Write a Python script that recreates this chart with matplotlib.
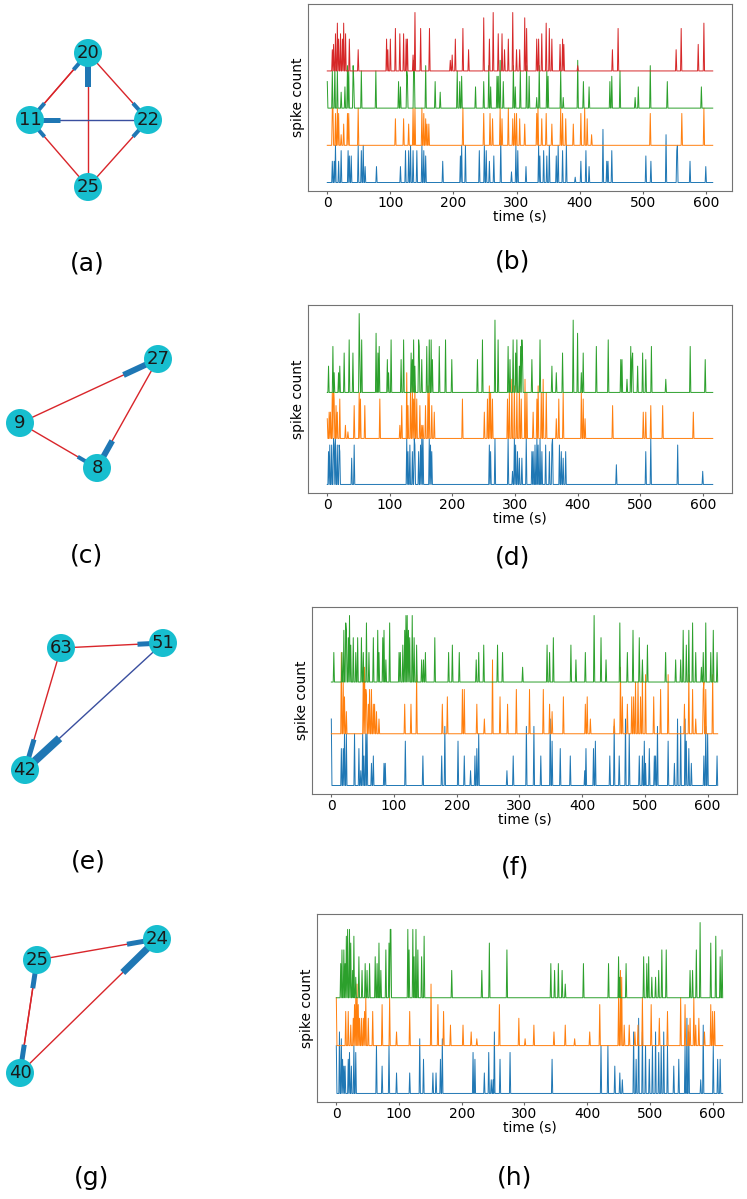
import numpy as np
import matplotlib
matplotlib.use("Agg")
import matplotlib.pyplot as plt
from matplotlib.patches import Circle

W, H = 747, 1199

# ── spike trains: (time bin [s], spike count) ───────────────────────────────
B_BLUE = [(8, 4), (11, 4), (13, 7), (18, 4), (22, 6), (33, 6), (35, 5), (38, 5), (49, 7), (54, 6),
          (57, 7), (60, 3), (78, 3), (116, 3), (124, 6), (129, 6), (132, 7), (136, 6), (142, 6),
          (150, 7), (153, 6), (156, 5), (183, 4), (211, 5), (213, 7), (219, 7), (241, 6), (249, 7),
          (252, 6), (257, 4), (264, 5), (275, 8), (292, 2), (299, 7), (302, 6), (315, 3), (335, 7),
          (337, 5), (343, 6), (348, 5), (352, 7), (363, 5), (366, 7), (373, 6), (379, 7), (393, 1),
          (402, 4), (410, 6), (415, 3), (437, 10), (443, 4), (445, 4), (451, 6), (505, 5), (513, 4),
          (537, 9), (554, 6), (555, 7), (575, 4), (600, 3)]
B_ORANGE = [(8, 7), (9, 7), (13, 6), (16, 7), (18, 6), (22, 2), (26, 4), (32, 6), (34, 6), (49, 7),
            (108, 5), (121, 5), (129, 4), (136, 7), (139, 7), (150, 7), (153, 6), (156, 5), (158, 4),
            (161, 4), (215, 7), (248, 6), (258, 6), (262, 5), (274, 7), (277, 5), (287, 7), (294, 5),
            (297, 6), (300, 6), (305, 5), (313, 4), (332, 6), (334, 7), (340, 5), (347, 6), (356, 4),
            (370, 7), (373, 6), (378, 5), (390, 4), (402, 6), (408, 7), (412, 5), (419, 2), (512, 6),
            (562, 6), (597, 7)]
B_GREEN = [(0, 5), (8, 7), (12, 8), (16, 7), (22, 3), (28, 4), (32, 8), (34, 7), (41, 8), (42, 5),
           (54, 7), (77, 7), (113, 5), (116, 4), (126, 7), (127, 6), (137, 9), (138, 8), (156, 8),
           (171, 5), (179, 3), (206, 7), (210, 5), (213, 6), (235, 4), (248, 5), (256, 8), (259, 4),
           (269, 6), (271, 6), (274, 9), (279, 5), (295, 8), (298, 4), (306, 7), (316, 8), (320, 6),
           (332, 2), (336, 8), (348, 7), (350, 6), (370, 7), (374, 2), (397, 9), (406, 5), (415, 4),
           (448, 5), (451, 6), (464, 7), (488, 2), (493, 4), (512, 8), (539, 5), (593, 4)]
B_RED = [(8, 4), (10, 5), (13, 7), (16, 9), (18, 6), (21, 7), (24, 6), (26, 9), (29, 7), (35, 6),
         (49, 4), (94, 6), (96, 4), (100, 6), (108, 8), (115, 7), (121, 7), (125, 6), (127, 6),
         (136, 3), (139, 11), (148, 8), (162, 8), (195, 2), (198, 3), (203, 6), (215, 8), (224, 4),
         (248, 10), (257, 6), (263, 11), (271, 7), (277, 7), (281, 4), (287, 6), (294, 11), (300, 4),
         (305, 4), (313, 10), (316, 8), (332, 6), (335, 6), (340, 7), (347, 9), (352, 8), (356, 6),
         (369, 5), (373, 6), (375, 5), (397, 1), (452, 4), (461, 8), (553, 4), (561, 8), (588, 5),
         (597, 9)]

D_BLUE = [(2, 5), (4, 6), (7, 6), (10, 7), (11, 6), (13, 7), (16, 6), (19, 6), (20, 5), (39, 4),
          (43, 6), (127, 7), (129, 5), (132, 6), (136, 5), (139, 7), (140, 6), (146, 5), (149, 6),
          (151, 7), (153, 7), (163, 7), (165, 6), (167, 5), (259, 6), (261, 5), (268, 7), (289, 7),
          (296, 2), (299, 7), (301, 6), (304, 5), (307, 4), (311, 4), (318, 7), (327, 5), (329, 5),
          (332, 6), (335, 7), (337, 6), (340, 7), (343, 5), (349, 6), (355, 5), (359, 6), (360, 7),
          (371, 6), (374, 5), (377, 4), (381, 5), (462, 3), (509, 5), (517, 7), (560, 6), (600, 2)]
D_ORANGE = [(0, 3), (3, 4), (5, 4), (8, 7), (10, 8), (11, 6), (14, 5), (16, 4), (20, 6), (29, 2),
            (33, 1), (43, 5), (51, 7), (53, 6), (60, 5), (84, 6), (116, 2), (119, 5), (127, 10),
            (129, 5), (133, 7), (136, 8), (138, 6), (140, 8), (143, 6), (148, 5), (151, 2), (153, 2),
            (157, 5), (161, 8), (163, 7), (167, 5), (171, 4), (216, 6), (251, 4), (256, 6), (259, 8),
            (261, 7), (264, 6), (288, 6), (291, 7), (295, 9), (299, 8), (303, 7), (307, 8), (310, 6),
            (316, 9), (319, 7), (329, 4), (335, 6), (337, 8), (342, 7), (345, 9), (350, 7), (366, 3),
            (370, 6), (377, 7), (406, 7), (409, 6), (412, 3), (456, 5), (505, 4), (509, 4), (517, 5),
            (536, 5), (585, 4)]
D_GREEN = [(2, 4), (9, 7), (11, 3), (18, 3), (20, 4), (27, 6), (35, 8), (41, 6), (51, 12), (52, 6),
           (55, 8), (78, 9), (81, 6), (83, 7), (96, 5), (98, 3), (102, 8), (118, 5), (122, 8),
           (134, 6), (136, 5), (138, 8), (140, 4), (146, 8), (147, 7), (151, 5), (159, 7), (163, 8),
           (166, 8), (168, 5), (179, 7), (189, 8), (199, 5), (240, 5), (248, 8), (268, 11), (273, 8),
           (289, 7), (292, 5), (297, 8), (301, 6), (303, 8), (307, 4), (309, 7), (311, 8), (312, 6),
           (327, 5), (340, 8), (359, 4), (366, 3), (376, 6), (393, 11), (400, 9), (406, 3), (409, 6),
           (430, 7), (449, 8), (469, 5), (471, 5), (479, 2), (485, 7), (487, 5), (488, 6), (496, 4),
           (504, 6), (509, 5), (518, 7), (541, 2), (580, 7), (604, 5)]

F_BLUE = [(0, 9), (16, 5), (19, 5), (21, 7), (24, 7), (37, 7), (44, 5), (47, 2), (50, 7), (52, 4),
          (55, 7), (57, 7), (64, 3), (67, 4), (84, 3), (86, 3), (118, 6), (146, 4), (176, 4),
          (181, 8), (202, 6), (212, 4), (222, 2), (229, 4), (232, 5), (235, 7), (280, 2), (290, 4),
          (311, 8), (323, 8), (334, 4), (349, 9), (352, 6), (365, 5), (381, 4), (404, 2), (406, 5),
          (418, 5), (421, 6), (444, 4), (451, 8), (459, 4), (469, 9), (475, 7), (491, 4), (496, 4),
          (499, 6), (501, 3), (507, 5), (515, 4), (517, 4), (520, 8), (537, 6), (547, 3), (552, 9),
          (557, 8), (564, 9), (566, 6), (570, 5), (574, 3), (594, 4), (597, 8), (600, 7), (615, 4)]
F_ORANGE = [(16, 11), (19, 7), (21, 5), (24, 3), (51, 9), (53, 9), (55, 6), (56, 5), (59, 4), (61, 6),
            (64, 6), (67, 4), (69, 4), (72, 3), (76, 2), (117, 4), (127, 4), (136, 8), (177, 4),
            (185, 5), (209, 6), (212, 6), (232, 4), (244, 2), (257, 10), (269, 5), (281, 4), (295, 6),
            (316, 6), (338, 6), (348, 4), (352, 3), (370, 5), (405, 4), (408, 5), (413, 2), (451, 2),
            (461, 9), (464, 5), (472, 4), (479, 5), (482, 5), (485, 7), (489, 7), (493, 5), (496, 8),
            (501, 8), (514, 5), (525, 6), (537, 8), (563, 4), (570, 8), (576, 6), (581, 2), (593, 6),
            (594, 7), (597, 6), (608, 8)]
F_GREEN = [(4, 4), (17, 4), (20, 7), (23, 8), (24, 7), (27, 6), (29, 9), (31, 5), (35, 6), (39, 4),
           (42, 6), (48, 6), (51, 4), (56, 8), (60, 4), (67, 6), (74, 7), (76, 4), (82, 6), (84, 7),
           (87, 3), (93, 8), (108, 4), (110, 4), (114, 5), (117, 7), (119, 9), (121, 9), (123, 7),
           (125, 6), (129, 9), (132, 6), (136, 5), (144, 3), (147, 3), (150, 4), (165, 6), (187, 4),
           (193, 5), (204, 4), (231, 3), (235, 4), (243, 5), (265, 5), (273, 4), (305, 2), (344, 5),
           (348, 4), (354, 6), (382, 5), (390, 3), (405, 4), (419, 9), (430, 6), (438, 3), (460, 8),
           (472, 4), (481, 7), (491, 6), (496, 3), (504, 5), (533, 4), (549, 3), (557, 3), (561, 7),
           (566, 5), (570, 7), (576, 8), (581, 4), (590, 2), (593, 4), (597, 8), (605, 4), (609, 7),
           (615, 4)]

H_BLUE = [(0, 7), (5, 9), (8, 8), (10, 5), (12, 4), (14, 4), (19, 5), (21, 6), (24, 4), (28, 7),
          (31, 6), (64, 7), (73, 4), (84, 7), (96, 3), (117, 3), (133, 8), (139, 5), (154, 3),
          (159, 3), (166, 5), (169, 8), (218, 6), (221, 5), (236, 3), (243, 6), (247, 2), (250, 2),
          (252, 9), (261, 5), (277, 6), (344, 5), (422, 7), (433, 7), (444, 4), (452, 3), (456, 2),
          (474, 9), (478, 5), (482, 11), (488, 9), (493, 7), (499, 5), (504, 7), (509, 9), (514, 6),
          (518, 7), (522, 9), (528, 7), (538, 4), (546, 5), (556, 7), (559, 11), (562, 9), (581, 2),
          (585, 10), (601, 7), (608, 5), (612, 5)]
H_ORANGE = [(0, 7), (15, 5), (19, 5), (23, 3), (27, 4), (29, 6), (31, 7), (33, 9), (35, 6), (37, 4),
            (40, 4), (43, 4), (45, 5), (47, 7), (51, 4), (58, 5), (73, 6), (85, 7), (96, 2), (117, 5),
            (151, 9), (162, 6), (171, 5), (182, 3), (202, 3), (215, 2), (224, 1), (260, 6), (291, 4),
            (301, 1), (315, 3), (347, 2), (365, 3), (380, 1), (404, 2), (420, 6), (450, 7), (453, 11),
            (455, 10), (459, 3), (467, 3), (476, 2), (481, 3), (488, 7), (502, 6), (515, 4), (528, 5),
            (549, 7), (556, 6), (561, 3), (564, 4), (570, 7), (573, 3), (578, 4), (587, 2), (597, 6),
            (600, 5), (603, 5)]
H_GREEN = [(7, 5), (9, 7), (12, 7), (14, 5), (16, 9), (18, 10), (21, 10), (23, 8), (26, 4), (28, 9),
           (31, 3), (36, 6), (41, 4), (46, 5), (49, 4), (53, 5), (62, 6), (65, 5), (68, 8), (71, 4),
           (79, 7), (84, 8), (86, 10), (87, 10), (114, 10), (116, 7), (122, 10), (124, 6), (127, 10),
           (130, 7), (136, 6), (140, 9), (184, 4), (232, 4), (244, 8), (272, 7), (342, 5), (348, 4),
           (354, 5), (360, 4), (365, 2), (394, 5), (434, 5), (450, 6), (452, 3), (462, 5), (490, 6),
           (495, 5), (498, 6), (503, 3), (509, 3), (514, 4), (519, 7), (526, 7), (564, 4), (568, 4),
           (574, 7), (580, 11), (597, 8), (605, 9), (612, 6), (615, 7)]

OFFSET = 7          # vertical spacing between neurons (spike counts)

# ── networks: node positions (px), edges (src, dst, kind, arrow width px) ──
A_NODES = {"20": (88, 53), "11": (30, 120), "22": (148, 120), "25": (88, 187)}
A_EDGES = [("11", "20", "exc", 4), ("20", "11", "exc", 4), ("20", "22", "exc", 4),
           ("25", "20", "exc", 6), ("22", "11", "inh", 5), ("25", "11", "exc", 4),
           ("25", "22", "exc", 4)]
C_NODES = {"27": (158, 359), "9": (20, 423), "8": (97, 468)}
C_EDGES = [("9", "27", "exc", 6), ("27", "8", "exc", 6), ("9", "8", "exc", 4)]
E_NODES = {"63": (61, 648), "51": (163, 643), "42": (25, 770)}
E_EDGES = [("63", "51", "exc", 5), ("63", "42", "exc", 5), ("51", "42", "inh", 8)]
G_NODES = {"24": (157, 939), "25": (37, 960), "40": (20, 1073)}
G_EDGES = [("25", "24", "exc", 5), ("40", "24", "exc", 7), ("25", "40", "exc", 5),
           ("40", "25", "exc", 5)]

EDGE_COLORS = {"exc": "#d9262b", "inh": "#3a4f9f"}
ARROW_COLOR = "#1f77b4"
NODE_COLOR = "#17becf"
NODE_R = 14
PT = 0.72           # points per pixel at dpi 100

fig = plt.figure(figsize=(W / 100, H / 100), dpi=100)

# overlay in pixel coordinates for the network drawings and panel letters
net = fig.add_axes([0, 0, 1, 1])
net.set_xlim(0, W)
net.set_ylim(H, 0)
net.axis("off")


def draw_network(nodes, edges):
    for src, dst, kind, aw in edges:
        (x1, y1), (x2, y2) = nodes[src], nodes[dst]
        net.plot([x1, x2], [y1, y2], color=EDGE_COLORS[kind], lw=1.4 * PT, zorder=1)
        xa, ya = x1 + 0.75 * (x2 - x1), y1 + 0.75 * (y2 - y1)
        net.plot([xa, x2], [ya, y2], color=ARROW_COLOR, lw=aw * PT,
                 solid_capstyle="butt", zorder=2)
    for name, (x, y) in nodes.items():
        net.add_patch(Circle((x, y), NODE_R, color=NODE_COLOR, zorder=3, lw=0))
        net.text(x, y, name, ha="center", va="center", fontsize=13,
                 color="#1a1a1a", zorder=4)


def spike_panel(box, n_bins, trains):
    x0, x1, y0, y1 = box
    ax = fig.add_axes([x0 / W, 1 - y1 / H, (x1 - x0) / W, (y1 - y0) / H])
    t = np.arange(n_bins)
    for k, (spikes, color) in enumerate(trains):
        y = np.zeros(n_bins)
        for tb, c in spikes:
            y[tb] = c
        ax.plot(t, y + OFFSET * k, color=color, lw=0.7)
    ax.set_yticks([])
    ax.set_xticks(range(0, 700, 100))
    ax.tick_params(axis="x", labelsize=10, length=2, pad=1.5, color="0.4")
    ax.set_xlabel("time (s)", fontsize=10, labelpad=0)
    ax.set_ylabel("spike count", fontsize=10, labelpad=2)
    for s in ax.spines.values():
        s.set_color("0.45")
    return ax


draw_network(A_NODES, A_EDGES)
draw_network(C_NODES, C_EDGES)
draw_network(E_NODES, E_EDGES)
draw_network(G_NODES, G_EDGES)

spike_panel((308, 732, 4, 191), 612,
            [(B_BLUE, "tab:blue"), (B_ORANGE, "tab:orange"), (B_GREEN, "tab:green"), (B_RED, "tab:red")])
spike_panel((308, 732, 305, 493), 617,
            [(D_BLUE, "tab:blue"), (D_ORANGE, "tab:orange"), (D_GREEN, "tab:green")])
spike_panel((312, 737, 607, 794), 617,
            [(F_BLUE, "tab:blue"), (F_ORANGE, "tab:orange"), (F_GREEN, "tab:green")])
spike_panel((317, 742, 914, 1102), 617,
            [(H_BLUE, "tab:blue"), (H_ORANGE, "tab:orange"), (H_GREEN, "tab:green")])

# panel letters
for lab, x, y in [("(a)", 87, 263), ("(b)", 513, 262), ("(c)", 87, 555), ("(d)", 513, 557),
                  ("(e)", 88, 862), ("(f)", 515, 867), ("(g)", 92, 1178), ("(h)", 515, 1177)]:
    net.text(x, y, lab, ha="center", va="center", fontsize=18)

fig.savefig("out.png", dpi=100)
plt.close(fig)
